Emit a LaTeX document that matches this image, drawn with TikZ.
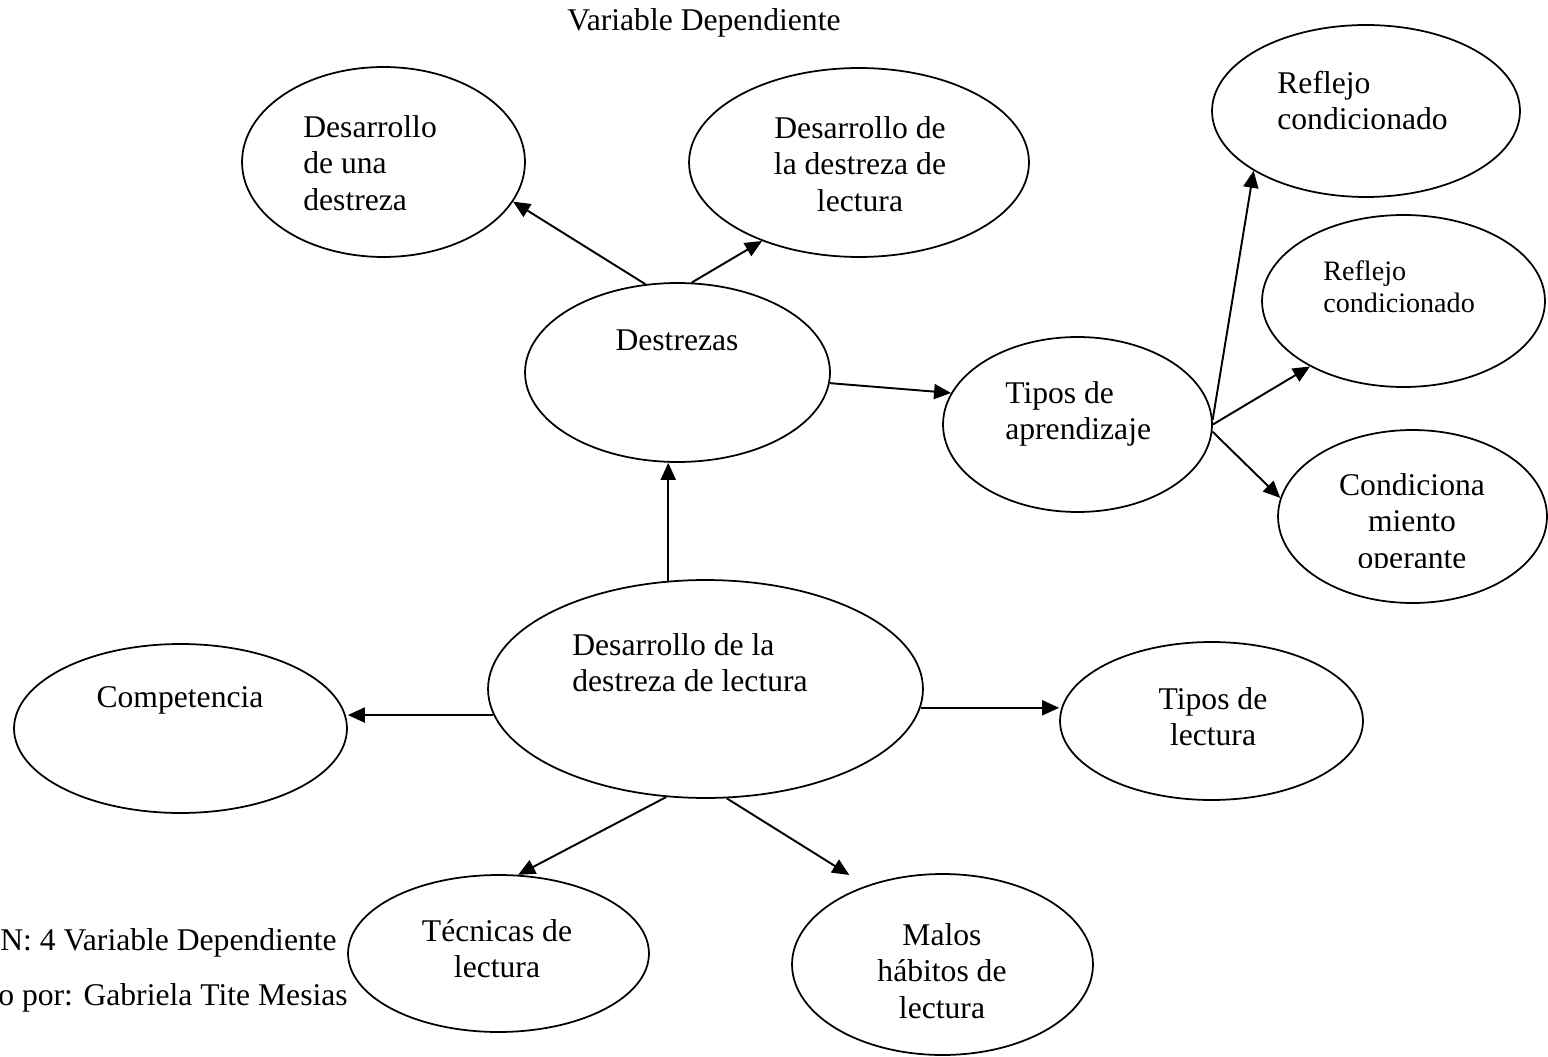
\documentclass[tikz,border=0pt]{standalone}
\usepackage{fontspec}
\setmainfont{Liberation Serif}
\usetikzlibrary{arrows.meta,shapes.geometric}
\tikzset{
  bubble/.style={draw, ellipse, line width=1pt, inner sep=0pt},
  txt/.style={inner sep=0pt, align=center, font=\fontsize{18}{20.8}\selectfont},
  link/.style={line width=1.1pt, -{Triangle[length=0.34cm,width=0.3cm]}}
}
\begin{document}
\begin{tikzpicture}[x=0.02cm, y=-0.02cm]
  \useasboundingbox (0,0) rectangle (1548,1057);
  % ellipses
  \node[bubble, minimum width=5.66cm, minimum height=3.80cm] (desuna) at (383.5,162) {};
  \node[bubble, minimum width=6.80cm, minimum height=3.78cm] (deslec) at (859,162.5) {};
  \node[bubble, minimum width=6.16cm, minimum height=3.44cm] (refl1) at (1366,111) {};
  \node[bubble, minimum width=5.66cm, minimum height=3.44cm] (refl2) at (1403.5,301) {};
  \node[bubble, minimum width=5.38cm, minimum height=3.46cm] (condop) at (1412.5,516.5) {};
  \node[bubble, minimum width=6.10cm, minimum height=3.58cm] (destrezas) at (677.5,372.5) {};
  \node[bubble, minimum width=5.38cm, minimum height=3.50cm] (tiposap) at (1077.5,424.5) {};
  \node[bubble, minimum width=8.70cm, minimum height=4.36cm] (centro) at (705.5,689) {};
  \node[bubble, minimum width=6.66cm, minimum height=3.38cm] (compet) at (180.5,728.5) {};
  \node[bubble, minimum width=6.06cm, minimum height=3.16cm] (tiposlec) at (1211.5,721) {};
  \node[bubble, minimum width=6.02cm, minimum height=3.14cm] (tecnicas) at (498.5,953.5) {};
  \node[bubble, minimum width=6.02cm, minimum height=3.62cm] (malos) at (942.5,964.5) {};
  % texts
  \node[txt] (titulo) at (704,23) {Variable Dependiente};
  \node[txt, align=left, anchor=west] (t-desuna) at (303,163) {Desarrollo\\de una\\destreza};
  \node[txt] (t-deslec) at (860,164) {Desarrollo de\\la destreza de\\lectura};
  \node[txt, align=left, anchor=west] (t-refl1) at (1277,100.5) {Reflejo\\condicionado};
  \node[txt, align=left, anchor=west, font=\fontsize{16}{18.5}\selectfont] (t-refl2) at (1323,286.5) {Reflejo\\condicionado};
  \begin{scope}
    \clip (1260,380) rectangle (1548,567);
    \node[txt] (t-condop) at (1412,524) {Condiciona\\miento\\operante};
  \end{scope}
  \node[txt] (t-destrezas) at (677,340) {Destrezas};
  \node[txt, align=left, anchor=west] (t-tiposap) at (1005,414) {Tipos de\\aprendizaje};
  \node[txt, align=left, anchor=west] (t-centro) at (572,662.5) {Desarrollo de la\\destreza de lectura};
  \node[txt] (t-compet) at (180,700) {Competencia};
  \node[txt] (t-tiposlec) at (1213,716.5) {Tipos de\\lectura};
  \node[txt] (t-tecnicas) at (497,948.5) {Técnicas de\\lectura};
  \node[txt] (t-malos) at (942,971) {Malos\\hábitos de\\lectura};
  \node[txt, anchor=east] (pie1) at (337,943) {N: 4 Variable Dependiente};
  \node[txt, anchor=east] (pie2) at (348,998) {o por: Gabriela Tite Mesias};
  % arrows
  \begin{scope}[link]
    \draw (destrezas.110) to (desuna.343);
    \draw (destrezas.81) to (deslec.219);
    \draw (destrezas.356) to (tiposap.166);
    \draw (tiposap.2) to (refl1.208);
    \draw (tiposap.0) to (refl2.215);
    \draw (tiposap.357) to (condop.172);
    \draw (centro.109.3) to (centro.109.3 |- destrezas.south);
    \draw (centro.187.7) to (centro.187.7 -| compet.east);
    \draw (centro.355.5) to (centro.355.5 -| tiposlec.west);
    \draw (centro.250.5) to (tecnicas.76);
    \draw[shorten >=0.4cm] (centro.281.7) to (malos.134);
  \end{scope}
\end{tikzpicture}
\end{document}
